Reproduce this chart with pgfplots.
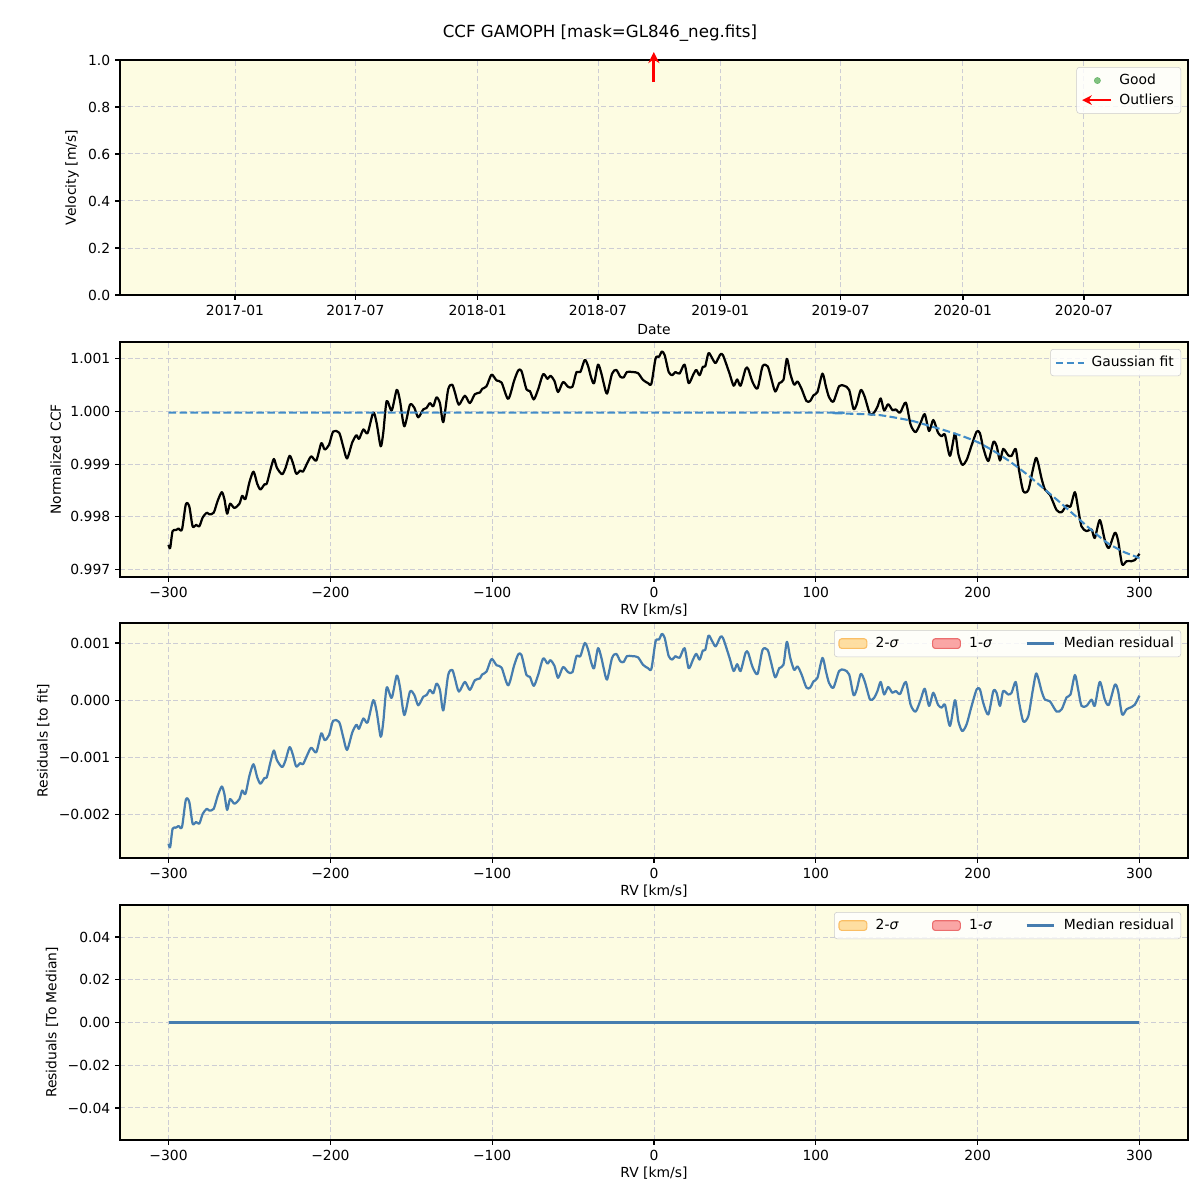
\documentclass[border=0pt]{standalone}
\usepackage{fontspec}
\setmainfont{DejaVu Sans}
\usepackage{pgfplots}
\pgfplotsset{compat=1.18}
\usepackage{pgfplotstable}
\usetikzlibrary{arrows.meta}

\definecolor{bgy}{RGB}{253,252,226}
\definecolor{gridc}{RGB}{205,205,212}
\definecolor{fitblue}{RGB}{65,140,200}
\definecolor{medblue}{RGB}{70,125,175}
\definecolor{goodg}{RGB}{100,180,100}
\definecolor{sig2}{RGB}{255,214,140}
\definecolor{sig2e}{RGB}{250,190,100}
\definecolor{sig1}{RGB}{250,145,145}
\definecolor{sig1e}{RGB}{235,110,110}
\definecolor{legedge}{RGB}{204,204,204}

\pgfplotstableread{
x res ccf
-300 -0.00251 0.99747
-299 -0.00257 0.99741
-297.5 -0.00225 0.99773
-295.5 -0.00223 0.99775
-293.8 -0.00220 0.99778
-291.7 -0.00222 0.99776
-289.3 -0.00174 0.99824
-287.2 -0.00178 0.99820
-285.1 -0.00216 0.99782
-283 -0.00213 0.99785
-281 -0.00216 0.99782
-278.9 -0.00199 0.99799
-276.4 -0.00190 0.99808
-274.8 -0.00193 0.99805
-272.1 -0.00190 0.99808
-269.6 -0.00167 0.99831
-267.1 -0.00151 0.99847
-265.5 -0.00164 0.99834
-263.8 -0.00192 0.99806
-262 -0.00173 0.99825
-259.3 -0.00181 0.99817
-256.2 -0.00173 0.99825
-254.5 -0.00158 0.99840
-252.5 -0.00164 0.99834
-250 -0.00132 0.99866
-247.5 -0.00112 0.99886
-245.2 -0.00135 0.99863
-243.2 -0.00146 0.99852
-240.7 -0.00136 0.99862
-239.3 -0.00135 0.99863
-237 -0.00108 0.99890
-234.9 -0.00088 0.99910
-233 -0.00105 0.99893
-229.8 -0.00117 0.99881
-227.7 -0.00105 0.99893
-225.2 -0.00082 0.99916
-223.1 -0.00096 0.99902
-221.1 -0.00116 0.99882
-218.6 -0.00110 0.99888
-216.9 -0.00112 0.99886
-214.3 -0.00096 0.99902
-211.8 -0.00083 0.99915
-208.7 -0.00091 0.99907
-205.6 -0.00058 0.99940
-203.5 -0.00070 0.99928
-200.8 -0.00061 0.99937
-198.3 -0.00036 0.99962
-194.6 -0.00038 0.99960
-192.1 -0.00064 0.99934
-189.7 -0.00087 0.99911
-186.4 -0.00056 0.99942
-183.9 -0.00043 0.99955
-182.3 -0.00050 0.99948
-179.6 -0.00032 0.99966
-177 -0.00039 0.99959
-173.5 0.00000 0.99998
-171.4 -0.00020 0.99978
-168.9 -0.00064 0.99934
-167.3 -0.00038 0.99960
-165.2 0.00022 1.00020
-162.1 0.00004 1.00002
-159 0.00043 1.00041
-157 0.00023 1.00021
-154.3 -0.00026 0.99972
-150.8 0.00015 1.00013
-148.1 0.00009 1.00007
-145.7 -0.00009 0.99989
-142.6 0.00006 1.00004
-140.5 0.00009 1.00007
-138.5 0.00018 1.00016
-136.4 0.00012 1.00010
-134.4 0.00029 1.00027
-132.3 0.00018 1.00016
-130.2 -0.00018 0.99980
-127.2 0.00044 1.00042
-124.7 0.00053 1.00051
-123 0.00038 1.00036
-120.6 0.00015 1.00013
-116.9 0.00032 1.00030
-113.8 0.00018 1.00016
-110.7 0.00035 1.00033
-107.6 0.00038 1.00036
-106.2 0.00045 1.00043
-103.5 0.00050 1.00048
-100.4 0.00072 1.00070
-97.3 0.00061 1.00059
-94.2 0.00057 1.00055
-90.1 0.00026 1.00024
-86.4 0.00061 1.00059
-83.9 0.00080 1.00078
-81.9 0.00079 1.00077
-78.8 0.00044 1.00042
-76.7 0.00041 1.00039
-74.3 0.00025 1.00023
-71.6 0.00044 1.00042
-68.5 0.00073 1.00071
-65.8 0.00064 1.00062
-64 0.00070 1.00068
-61.5 0.00060 1.00058
-59.3 0.00039 1.00037
-56.2 0.00058 1.00056
-53.1 0.00049 1.00047
-50.4 0.00049 1.00047
-47.9 0.00077 1.00075
-45.5 0.00077 1.00075
-42.8 0.00100 1.00098
-40.7 0.00088 1.00086
-38.7 0.00065 1.00063
-37 0.00056 1.00054
-34.6 0.00091 1.00089
-32.5 0.00074 1.00072
-31.1 0.00056 1.00054
-29 0.00036 1.00034
-25.9 0.00074 1.00072
-23.3 0.00081 1.00079
-20.8 0.00068 1.00066
-18.7 0.00067 1.00065
-16.7 0.00077 1.00075
-13.4 0.00077 1.00075
-9.9 0.00075 1.00073
-6.8 0.00062 1.00060
-3.7 0.00056 1.00054
-1.6 0.00055 1.00053
1 0.00103 1.00101
3.1 0.00106 1.00104
4.9 0.00116 1.00114
6.6 0.00109 1.00107
9.1 0.00077 1.00075
11.3 0.00071 1.00069
13.2 0.00077 1.00075
15.8 0.00074 1.00072
18.9 0.00091 1.00089
21.4 0.00056 1.00054
24.1 0.00071 1.00069
26.1 0.00081 1.00079
28.2 0.00071 1.00069
30.2 0.00087 1.00085
31.7 0.00088 1.00086
33.7 0.00113 1.00111
36 0.00103 1.00101
38.1 0.00094 1.00092
40.9 0.00110 1.00108
42.6 0.00109 1.00107
46.7 0.00074 1.00072
49.2 0.00051 1.00049
51.4 0.00063 1.00061
53.5 0.00051 1.00049
56.6 0.00083 1.00081
58.2 0.00083 1.00081
60.9 0.00058 1.00056
64 0.00046 1.00044
67.1 0.00088 1.00086
70.2 0.00088 1.00086
72.2 0.00068 1.00066
74.9 0.00040 1.00038
77.4 0.00056 1.00054
80 0.00062 1.00060
82.1 0.00102 1.00100
84.2 0.00074 1.00072
86.6 0.00053 1.00051
88.7 0.00059 1.00057
91.2 0.00045 1.00043
94.2 0.00022 1.00020
96.5 0.00022 1.00020
98.6 0.00033 1.00031
101 0.00039 1.00037
104.1 0.00074 1.00072
106.2 0.00051 1.00048
108.2 0.00030 1.00027
110.9 0.00022 1.00019
114.4 0.00051 1.00048
117.5 0.00053 1.00049
120.6 0.00045 1.00041
123.3 0.00009 1.00005
125.3 0.00019 1.00014
127.8 0.00046 1.00041
130.2 0.00033 1.00028
133.5 0.00001 0.99995
136 0.00004 0.99998
138.1 0.00016 1.00009
140.1 0.00032 1.00025
142.2 0.00010 1.00002
144.7 0.00023 1.00014
147.3 0.00013 1.00003
149.4 0.00016 1.00004
152.1 0.00011 0.99998
155.6 0.00032 1.00017
158.6 -0.00008 0.99975
161.7 -0.00020 0.99961
164.8 0.00001 0.99979
167.3 0.00020 0.99995
170 -0.00010 0.99963
172.6 0.00013 0.99984
175.5 -0.00008 0.99960
177.8 -0.00013 0.99953
179.8 -0.00008 0.99956
182.9 -0.00045 0.99916
186 0.00000 0.99958
188.1 -0.00037 0.99919
190.5 -0.00054 0.99899
193.2 -0.00042 0.99908
196.3 -0.00010 0.99936
199.4 0.00019 0.99962
201.4 0.00019 0.99959
203.5 -0.00005 0.99931
206.6 -0.00025 0.99906
209.7 0.00016 0.99942
211.7 0.00013 0.99935
213.8 -0.00010 0.99907
215.8 0.00016 0.99929
218.9 0.00010 0.99917
221 0.00013 0.99916
223.5 0.00032 0.99929
225.5 -0.00002 0.99890
228.2 -0.00037 0.99849
231.3 -0.00028 0.99851
234 0.00016 0.99888
236 0.00046 0.99912
237.4 0.00039 0.99902
239.5 0.00016 0.99873
241.6 0.00001 0.99852
244.7 -0.00002 0.99842
248.8 -0.00020 0.99813
251.9 -0.00016 0.99809
255 0.00005 0.99822
257.4 0.00010 0.99820
260.1 0.00044 0.99847
262.1 0.00019 0.99816
264.2 -0.00010 0.99782
267.3 -0.00010 0.99773
270.4 0.00001 0.99776
272.4 -0.00010 0.99760
275.5 0.00032 0.99794
278.6 0.00001 0.99756
281.1 -0.00008 0.99741
284.8 0.00027 0.99770
286.8 0.00016 0.99755
289.3 -0.00025 0.99710
292 -0.00016 0.99716
295.1 -0.00012 0.99716
297.1 -0.00008 0.99718
300 0.00008 0.99730
}\rtab

\pgfplotstableread{
x fit
-300 0.99998
100 0.99998
110 0.99997
120 0.99996
130 0.99995
140 0.99993
150 0.99988
160 0.99982
170 0.99973
180 0.99964
190 0.99954
200 0.99942
210 0.99925
220 0.99905
230 0.99882
240 0.99856
250 0.99830
260 0.99803
270 0.99776
280 0.99751
290 0.99734
300 0.99722
}\fittab

\pgfplotsset{
  panel/.style={
    scale only axis, width=10.68in, height=2.35in, anchor=south west,
    axis background/.style={fill=bgy},
    axis line style={line width=0.8bp, black},
    tick align=outside, major tick length=3.5bp,
    tick style={black, line width=0.8bp},
    xtick pos=bottom, ytick pos=left,
    grid=major,
    major grid style={gridc, dash pattern=on 3.5bp off 2bp, line width=0.7bp},
    ticklabel style={font=\fontsize{10bp}{12bp}\selectfont},
    label style={font=\fontsize{10bp}{12bp}\selectfont},
    legend style={font=\fontsize{10bp}{12bp}\selectfont, draw=legedge,
      rounded corners=2bp, fill=white, fill opacity=0.8, text opacity=1,
      inner sep=3bp, row sep=1bp},
    legend cell align=left,
    legend image code/.code={\draw[##1] (0bp,0bp) -- (20bp,0bp);},
    /pgf/number format/assume math mode=true,
    scaled ticks=false,
  },
  rvaxis/.style={xmin=-330, xmax=330,
    xtick={-300,-200,-100,0,100,200,300},
    xticklabels={−300,−200,−100,0,100,200,300},
    xlabel={RV [km/s]}, xlabel style={yshift=2bp}},
}

\begin{document}
\begin{tikzpicture}
\useasboundingbox (0,0) rectangle (12in,12in);
\node[font=\fontsize{12bp}{14bp}\selectfont] at (6in,11.67in) {CCF GAMOPH [mask=GL846\_neg.fits]};

% Panel 1
\begin{axis}[panel, at={(1.2in,9.05in)}, clip=false,
  xmin=-173, xmax=1433.5,
  xtick={0,181,365,546,730,911,1095,1277},
  xticklabels={2017-01,2017-07,2018-01,2018-07,2019-01,2019-07,2020-01,2020-07},
  ymin=0, ymax=1,
  ytick={0,0.2,0.4,0.6,0.8,1.0},
  yticklabels={0.0,0.2,0.4,0.6,0.8,1.0},
  xlabel={Date}, ylabel={Velocity [m/s]}, xlabel style={yshift=0bp},
  legend style={at={(0.9935,0.97)}, anchor=north east,
    /tikz/every odd column/.append style={column sep=3bp}}]
\addlegendimage{legend image code/.code={\fill[goodg] (10bp,0bp) circle (2.2bp);}}
\addlegendentry{Good}
\addlegendimage{legend image code/.code={\draw[red, line width=1.8bp, -{Stealth[length=7bp,width=7bp]}] (20bp,0bp) -- (-1bp,0bp);}}
\addlegendentry{Outliers}
\addplot[red, line width=2bp, mark=none, -{Stealth[length=8bp,width=8bp]},
  quiver={u=0, v=0.128}] coordinates {(630,0.906)};
\end{axis}

% Panel 2
\begin{axis}[panel, rvaxis, at={(1.2in,6.23in)},
  ymin=0.99686, ymax=1.00132,
  ytick={0.997,0.998,0.999,1.000,1.001},
  yticklabels={0.997,0.998,0.999,1.000,1.001},
  ylabel={Normalized CCF},
  legend style={at={(0.9935,0.97)}, anchor=north east,
    /tikz/every odd column/.append style={column sep=3bp}}]
\addplot[black, line width=1.6bp, line join=round, smooth, tension=0.45, forget plot] table[x=x, y=ccf] {\rtab};
\addplot[fitblue, line width=1.5bp, smooth, tension=0.3, dash pattern=on 5.5bp off 2.4bp] table[x=x, y=fit] {\fittab};
\addlegendentry{Gaussian fit}
\end{axis}

% Panel 3
\begin{axis}[panel, rvaxis, at={(1.2in,3.42in)},
  ymin=-0.00276, ymax=0.00135,
  ytick={-0.002,-0.001,0,0.001},
  yticklabels={−0.002,−0.001,0.000,0.001},
  ylabel={Residuals [to fit]},
  legend columns=3,
  legend style={at={(0.9935,0.97)}, anchor=north east,
    /tikz/every odd column/.append style={column sep=4bp},
    /tikz/every even column/.append style={column sep=22bp}}]
\addlegendimage{legend image code/.code={\draw[fill=sig2, draw=sig2e, line width=0.8bp] (0bp,-3.5bp) rectangle (20bp,3.5bp);}}
\addlegendentry{2-\textit{σ}}
\addlegendimage{legend image code/.code={\draw[fill=sig1, draw=sig1e, line width=0.8bp] (0bp,-3.5bp) rectangle (20bp,3.5bp);}}
\addlegendentry{1-\textit{σ}}
\addplot[medblue, line width=1.6bp, line join=round, smooth, tension=0.45] table[x=x, y=res] {\rtab};
\addlegendentry{Median residual}
\end{axis}

% Panel 4
\begin{axis}[panel, rvaxis, at={(1.2in,0.60in)},
  ymin=-0.055, ymax=0.055,
  ytick={-0.04,-0.02,0,0.02,0.04},
  yticklabels={−0.04,−0.02,0.00,0.02,0.04},
  ylabel={Residuals [To Median]},
  legend columns=3,
  legend style={at={(0.9935,0.97)}, anchor=north east,
    /tikz/every odd column/.append style={column sep=4bp},
    /tikz/every even column/.append style={column sep=22bp}}]
\addlegendimage{legend image code/.code={\draw[fill=sig2, draw=sig2e, line width=0.8bp] (0bp,-3.5bp) rectangle (20bp,3.5bp);}}
\addlegendentry{2-\textit{σ}}
\addlegendimage{legend image code/.code={\draw[fill=sig1, draw=sig1e, line width=0.8bp] (0bp,-3.5bp) rectangle (20bp,3.5bp);}}
\addlegendentry{1-\textit{σ}}
\addplot[medblue, line width=1.6bp] coordinates {(-300,0) (300,0)};
\addlegendentry{Median residual}
\end{axis}
\end{tikzpicture}
\end{document}
